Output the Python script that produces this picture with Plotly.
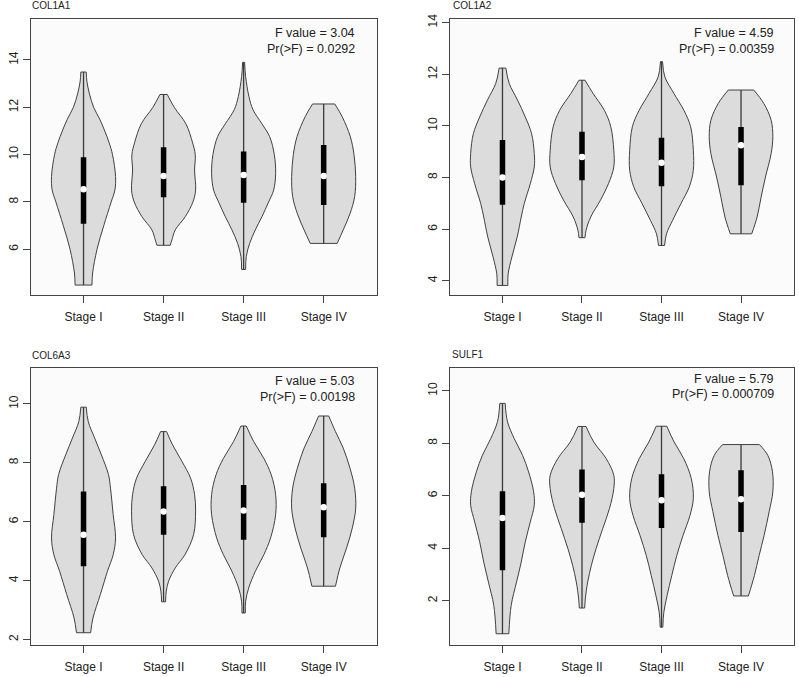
import plotly.graph_objects as go

W, H = 799, 677

stages = ["Stage I", "Stage II", "Stage III", "Stage IV"]
genes = ["COL1A1", "COL1A2", "COL6A3", "SULF1"]
f_values = ["3.04", "4.59", "5.03", "5.79"]
p_values = ["0.0292", "0.00359", "0.00198", "0.000709"]

# Violin outlines: expression levels (top -> bottom)
# and relative density (half-width) at each level, one list per stage.
COL1A1_y = [
    [13.49, 13.1, 12.6, 12.0, 11.5, 11.0, 10.5, 10.0, 9.07, 8.5, 8.0, 7.0, 6.0, 5.0, 4.49],
    [12.54, 12.0, 11.3, 10.5, 10.0, 9.35, 8.5, 8.0, 7.38, 6.82, 6.4, 6.17],
    [13.9, 13.3, 12.45, 11.9, 11.3, 10.76, 10.0, 9.2, 8.5, 8.0, 7.38, 6.82, 6.25, 5.7, 5.15],
    [12.14, 11.6, 10.76, 10.0, 9.07, 8.23, 7.5, 6.82, 6.25],
]
COL1A1_d = [
    [8, 10, 17, 30, 48, 63, 76, 86, 95, 93, 82, 60, 40, 27, 25],
    [11, 32, 67, 87, 95, 93, 96, 88, 65, 35, 25, 20],
    [3, 6, 16, 28, 55, 78, 92, 96, 90, 75, 55, 35, 18, 8, 6],
    [33, 55, 79, 90, 95, 92, 78, 58, 40],
]
COL1A1_q3 = [9.89, 10.31, 10.13, 10.41]
COL1A1_med = [8.54, 9.1, 9.14, 9.1]
COL1A1_q1 = [7.08, 8.2, 7.97, 7.87]

COL1A2_y = [
    [12.24, 11.65, 11.0, 10.35, 9.7, 8.93, 8.41, 7.76, 6.99, 6.47, 5.7, 4.92, 4.27, 3.82],
    [11.77, 11.26, 10.6, 9.97, 9.06, 8.41, 7.76, 7.12, 6.47, 5.95, 5.67],
    [12.49, 11.9, 11.26, 10.6, 9.97, 9.06, 8.28, 7.64, 6.99, 6.34, 5.82, 5.37],
    [11.39, 10.87, 10.22, 9.58, 8.93, 8.02, 7.24, 6.47, 5.82],
]
COL1A2_d = [
    [10, 20, 45, 68, 87, 95, 95, 83, 65, 56, 44, 28, 17, 16],
    [9, 33, 67, 86, 95, 95, 79, 55, 26, 12, 9],
    [3, 10, 37, 67, 87, 95, 95, 83, 58, 33, 15, 9],
    [38, 68, 90, 95, 90, 73, 60, 48, 32],
]
COL1A2_q3 = [9.45, 9.77, 9.54, 9.96]
COL1A2_med = [8.0, 8.8, 8.57, 9.25]
COL1A2_q1 = [6.95, 7.9, 7.66, 7.7]

COL6A3_y = [
    [9.89, 9.4, 8.84, 8.27, 7.6, 7.14, 6.24, 5.45, 4.88, 4.32, 3.53, 2.73, 2.23],
    [9.06, 8.61, 8.05, 7.48, 6.92, 6.36, 5.56, 4.88, 4.43, 3.98, 3.64, 3.28],
    [9.25, 8.72, 8.15, 7.59, 6.92, 6.24, 5.45, 4.88, 4.32, 3.75, 3.3, 2.9],
    [9.59, 9.06, 8.5, 7.82, 7.14, 6.46, 5.79, 5.11, 4.43, 3.81],
]
COL6A3_d = [
    [8, 14, 33, 53, 74, 80, 88, 95, 88, 71, 50, 28, 21],
    [9, 27, 55, 81, 93, 96, 90, 64, 35, 15, 8, 6],
    [8, 30, 60, 82, 95, 95, 80, 60, 35, 15, 6, 5],
    [15, 35, 58, 78, 92, 95, 85, 68, 48, 35],
]
COL6A3_q3 = [7.03, 7.2, 7.25, 7.31]
COL6A3_med = [5.56, 6.35, 6.38, 6.49]
COL6A3_q1 = [4.49, 5.56, 5.39, 5.47]

SULF1_y = [
    [9.52, 8.82, 8.18, 7.54, 6.91, 6.15, 5.64, 5.0, 4.24, 3.47, 2.71, 1.82, 0.74],
    [8.64, 8.05, 7.42, 6.78, 6.27, 5.51, 4.75, 3.98, 3.35, 2.71, 2.07, 1.72],
    [8.65, 8.05, 7.42, 6.65, 5.89, 5.25, 4.49, 3.72, 2.96, 2.2, 1.56, 0.99],
    [7.95, 7.54, 6.91, 6.15, 5.39, 4.49, 3.72, 2.96, 2.18],
]
SULF1_d = [
    [8, 15, 35, 60, 78, 93, 95, 83, 68, 56, 42, 26, 19],
    [12, 35, 72, 95, 95, 82, 62, 42, 28, 17, 10, 8],
    [16, 38, 67, 90, 96, 86, 65, 46, 31, 17, 7, 4],
    [55, 80, 94, 95, 84, 69, 54, 40, 22],
]
SULF1_q3 = [6.17, 7.0, 6.82, 6.97]
SULF1_med = [5.15, 6.04, 5.83, 5.87]
SULF1_q1 = [3.16, 4.97, 4.77, 4.62]

gene_data = {
    "COL1A1": (COL1A1_y, COL1A1_d, COL1A1_q1, COL1A1_med, COL1A1_q3),
    "COL1A2": (COL1A2_y, COL1A2_d, COL1A2_q1, COL1A2_med, COL1A2_q3),
    "COL6A3": (COL6A3_y, COL6A3_d, COL6A3_q1, COL6A3_med, COL6A3_q3),
    "SULF1": (SULF1_y, SULF1_d, SULF1_q1, SULF1_med, SULF1_q3),
}

# panel layout (pixels): x0, x1, ytop, ybottom, y-range, y-ticks
panels = [
    dict(px=(30.7, 376.5), py=(19.0, 295.0), yr=(4.07, 15.73), yt=[6, 8, 10, 12, 14],
         title_xy=(30.0, 5.7), ann_x=356.5, ann_y=(33.3, 49.3)),
    dict(px=(450.0, 793.5), py=(19.3, 295.0), yr=(3.45, 14.13), yt=[4, 6, 8, 10, 12, 14],
         title_xy=(451.0, 5.7), ann_x=776.0, ann_y=(33.3, 49.3)),
    dict(px=(30.7, 376.5), py=(367.7, 644.5), yr=(1.83, 11.23), yt=[2, 4, 6, 8, 10],
         title_xy=(30.0, 355.0), ann_x=356.5, ann_y=(381.0, 396.7)),
    dict(px=(450.0, 793.5), py=(367.7, 644.5), yr=(0.33, 10.88), yt=[2, 4, 6, 8, 10],
         title_xy=(450.0, 354.3), ann_x=776.0, ann_y=(379.3, 394.3)),
]

FILL = "#dcdcdc"
EDGE = "#404040"
HALF = 0.4
FONT = "Liberation Sans, Arial, sans-serif"

fig = go.Figure()
annotations = []
layout_axes = {}

for i, gene in enumerate(genes):
    p = panels[i]
    k = "" if i == 0 else str(i + 1)
    xa, ya = "x" + k, "y" + k
    ys, ds, q1, med, q3 = gene_data[gene]
    for j in range(4):
        c = j + 1
        m = max(ds[j])
        hw = [HALF * d / m for d in ds[j]]
        left = [c - h for h in hw]
        right = [c + h for h in hw]
        fig.add_trace(go.Scatter(x=left, y=ys[j], mode="lines", xaxis=xa, yaxis=ya,
                                 line=dict(color=EDGE, width=1, shape="spline", smoothing=1),
                                 hoverinfo="skip", showlegend=False))
        fig.add_trace(go.Scatter(x=right, y=ys[j], mode="lines", xaxis=xa, yaxis=ya,
                                 line=dict(color=EDGE, width=1, shape="spline", smoothing=1),
                                 fill="tonextx", fillcolor=FILL,
                                 hoverinfo="skip", showlegend=False))
        # flat ends
        fig.add_trace(go.Scatter(x=[left[0], right[0], None, left[-1], right[-1]],
                                 y=[ys[j][0], ys[j][0], None, ys[j][-1], ys[j][-1]],
                                 mode="lines", xaxis=xa, yaxis=ya,
                                 line=dict(color=EDGE, width=1),
                                 hoverinfo="skip", showlegend=False))
        # whisker (min to max)
        fig.add_trace(go.Scatter(x=[c, c], y=[ys[j][-1], ys[j][0]], mode="lines",
                                 xaxis=xa, yaxis=ya, line=dict(color="#3a3a3a", width=1.3),
                                 hoverinfo="skip", showlegend=False))
        # box (IQR)
        fig.add_trace(go.Scatter(x=[c, c], y=[q1[j], q3[j]], mode="lines",
                                 xaxis=xa, yaxis=ya, line=dict(color="black", width=5.5),
                                 hoverinfo="skip", showlegend=False))
        # median
        fig.add_trace(go.Scatter(x=[c], y=[med[j]], mode="markers", xaxis=xa, yaxis=ya,
                                 marker=dict(color="white", size=6.5, line=dict(width=0)),
                                 hoverinfo="skip", showlegend=False))

    axis_common = dict(showline=True, mirror=True, linecolor="#444444", linewidth=1,
                       showgrid=False, zeroline=False, ticks="outside", ticklen=7,
                       tickcolor="#444444", tickwidth=1, automargin=False,
                       tickfont=dict(family=FONT, size=12, color="#222222"))
    layout_axes["xaxis" + k] = dict(axis_common,
                                    domain=[p["px"][0] / W, p["px"][1] / W],
                                    range=[0.34, 4.66], anchor=ya, ticklabelstandoff=4,
                                    tickmode="array", tickvals=[1, 2, 3, 4], ticktext=stages)
    layout_axes["yaxis" + k] = dict(axis_common,
                                    domain=[1 - p["py"][1] / H, 1 - p["py"][0] / H],
                                    range=list(p["yr"]), anchor=xa,
                                    tickmode="array", tickvals=p["yt"],
                                    ticktext=[str(v) for v in p["yt"]], tickangle=-90)
    annotations.append(dict(text=gene, xref="paper", yref="paper",
                            x=p["title_xy"][0] / W, y=1 - p["title_xy"][1] / H,
                            xanchor="left", yanchor="middle", showarrow=False,
                            font=dict(family=FONT, size=10, color="#222222")))
    annotations.append(dict(text="F value = " + f_values[i], xref="paper", yref="paper",
                            x=p["ann_x"] / W, y=1 - p["ann_y"][0] / H,
                            xanchor="right", yanchor="middle", showarrow=False,
                            font=dict(family=FONT, size=12.5, color="#222222")))
    annotations.append(dict(text="Pr(>F) = " + p_values[i], xref="paper", yref="paper",
                            x=p["ann_x"] / W, y=1 - p["ann_y"][1] / H,
                            xanchor="right", yanchor="middle", showarrow=False,
                            font=dict(family=FONT, size=12.5, color="#222222")))

fig.update_layout(width=W, height=H, margin=dict(l=0, r=0, t=0, b=0, autoexpand=False),
                  paper_bgcolor="white", plot_bgcolor="#fbfbfb",
                  showlegend=False, annotations=annotations, **layout_axes)

fig.write_html("out.html", config={"displayModeBar": False},
               post_script="document.body.style.margin='0';document.body.style.overflow='hidden';")
